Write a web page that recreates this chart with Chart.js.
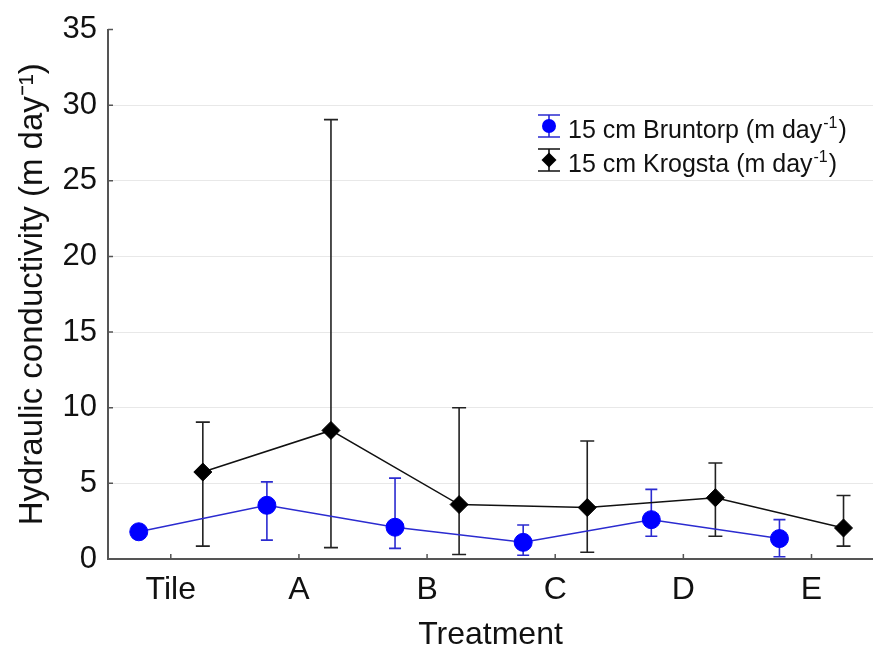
<!DOCTYPE html>
<html>
<head>
<meta charset="utf-8">
<script src="https://cdn.jsdelivr.net/npm/chart.js@4.4.0/dist/chart.umd.min.js"></script>
<style>
  html, body { margin: 0; padding: 0; background: #fff; }
  #wrap { width: 873px; height: 649px; }
</style>
</head>
<body>
<div id="wrap"><canvas id="chart"></canvas></div>
<script>
// categories on the x axis
const categories = ['Tile', 'A', 'B', 'C', 'D', 'E'];

// 15 cm Bruntorp (m day-1): mean, lower and upper whisker
const bruntorpMean = [1.8, 3.55, 2.1, 1.1, 2.6, 1.35];
const bruntorpLow  = [1.8, 1.25, 0.7, 0.25, 1.5, 0.15];
const bruntorpHigh = [1.8, 5.1, 5.35, 2.25, 4.6, 2.6];

// 15 cm Krogsta (m day-1)
const krogstaMean = [5.75, 8.5, 3.6, 3.4, 4.05, 2.05];
const krogstaLow  = [0.85, 0.75, 0.3, 0.45, 1.5, 0.85];
const krogstaHigh = [9.05, 29.05, 10.0, 7.8, 6.35, 4.2];

const yMin = 0, yMax = 35, yStep = 5;

const FONT = '"Liberation Sans", Arial, sans-serif';
const TXT = '#111';
const AXIS = '#555';

// series sit a quarter category left / right of the tick
const shift = 0.25;

// error bars, drawn under the markers
const errorBars = {
  id: 'errorBars',
  beforeDatasetsDraw(chart) {
    const ctx = chart.ctx;
    const xs = chart.scales.x, ys = chart.scales.y;
    chart.data.datasets.forEach(ds => {
      ctx.save();
      ctx.strokeStyle = ds.errColor;
      ctx.lineWidth = 1.6;
      ds.data.forEach((p, i) => {
        const x = xs.getPixelForValue(p.x);
        const y1 = ys.getPixelForValue(ds.errLow[i]);
        const y2 = ys.getPixelForValue(ds.errHigh[i]);
        if (Math.abs(y1 - y2) < 1) return;
        ctx.beginPath();
        ctx.moveTo(x, y1); ctx.lineTo(x, y2);
        ctx.moveTo(x - ds.capHalf, y1); ctx.lineTo(x + ds.capHalf, y1);
        ctx.moveTo(x - ds.capHalf, y2); ctx.lineTo(x + ds.capHalf, y2);
        ctx.stroke();
      });
      ctx.restore();
    });
  }
};

// inward tick marks on both axes
const innerTicks = {
  id: 'innerTicks',
  afterDraw(chart) {
    const ctx = chart.ctx;
    const xs = chart.scales.x, ys = chart.scales.y;
    const a = chart.chartArea;
    ctx.save();
    ctx.strokeStyle = AXIS;
    ctx.lineWidth = 1.5;
    ctx.beginPath();
    ys.ticks.forEach(t => {
      const y = ys.getPixelForValue(t.value);
      ctx.moveTo(a.left, y); ctx.lineTo(a.left + 5, y);
    });
    xs.ticks.forEach(t => {
      const x = xs.getPixelForValue(t.value);
      ctx.moveTo(x, a.bottom); ctx.lineTo(x, a.bottom - 5);
    });
    ctx.stroke();
    ctx.restore();
  }
};

// legend box in the upper right, with superscript units
const legendBox = {
  id: 'legendBox',
  afterDraw(chart) {
    const ctx = chart.ctx;
    const rows = [
      { name: '15 cm Bruntorp', y: 126, color: '#0000ff', bar: '#2b2bd0', style: 'circle' },
      { name: '15 cm Krogsta', y: 160, color: '#000', bar: '#111', style: 'diamond' }
    ];
    const mx = 549;
    rows.forEach(r => {
      ctx.save();
      ctx.strokeStyle = r.bar;
      ctx.lineWidth = 1.6;
      ctx.beginPath();
      ctx.moveTo(mx, r.y - 11); ctx.lineTo(mx, r.y + 11);
      ctx.moveTo(mx - 11, r.y - 11); ctx.lineTo(mx + 11, r.y - 11);
      ctx.moveTo(mx - 11, r.y + 11); ctx.lineTo(mx + 11, r.y + 11);
      ctx.stroke();
      ctx.fillStyle = r.color;
      ctx.beginPath();
      if (r.style === 'circle') {
        ctx.arc(mx, r.y, 7, 0, Math.PI * 2);
      } else {
        ctx.moveTo(mx, r.y - 7.5); ctx.lineTo(mx + 7.5, r.y);
        ctx.lineTo(mx, r.y + 7.5); ctx.lineTo(mx - 7.5, r.y);
        ctx.closePath();
      }
      ctx.fill();

      let x = 568;
      const base = r.y + 12;
      ctx.fillStyle = TXT;
      ctx.textBaseline = 'alphabetic';
      ctx.textAlign = 'left';
      ctx.font = '25px ' + FONT;
      const main = r.name + ' (m day';
      ctx.fillText(main, x, base);
      x += ctx.measureText(main).width + 1;
      ctx.font = '16px ' + FONT;
      ctx.fillText('-1', x, base - 10);
      x += ctx.measureText('-1').width + 1;
      ctx.font = '25px ' + FONT;
      ctx.fillText(')', x, base);
      ctx.restore();
    });
  }
};

function series(mean, low, high, opts) {
  return Object.assign({
    data: mean.map((v, i) => ({ x: i + opts.dx, y: v })),
    errLow: low,
    errHigh: high,
    showLine: true,
    borderWidth: 1.5,
    pointBorderWidth: 1
  }, opts);
}

new Chart(document.getElementById('chart'), {
  type: 'scatter',
  data: {
    datasets: [
      series(bruntorpMean, bruntorpLow, bruntorpHigh, {
        label: '15 cm Bruntorp (m day-1)', dx: -shift,
        borderColor: '#2b2bd0', pointBackgroundColor: '#0000ff', pointBorderColor: '#0000ff',
        pointStyle: 'circle', pointRadius: 9, errColor: '#2b2bd0', capHalf: 6
      }),
      series(krogstaMean, krogstaLow, krogstaHigh, {
        label: '15 cm Krogsta (m day-1)', dx: shift,
        borderColor: '#111', pointBackgroundColor: '#000', pointBorderColor: '#000',
        pointStyle: 'rectRot', pointRadius: 9, errColor: '#222', capHalf: 7
      })
    ]
  },
  options: {
    responsive: true,
    maintainAspectRatio: false,
    animation: false,
    layout: { autoPadding: false, padding: { top: 27, right: 0, left: 0, bottom: 0 } },
    plugins: {
      legend: { display: false },
      tooltip: { enabled: false }
    },
    scales: {
      x: {
        type: 'linear',
        min: -0.49,
        max: 5.48,
        afterBuildTicks: s => { s.ticks = categories.map((c, i) => ({ value: i })); },
        afterFit: s => { s.height = 90; },
        ticks: {
          callback: v => categories[v] !== undefined ? categories[v] : '',
          font: { family: FONT, size: 32 },
          color: TXT,
          padding: 12,
          maxRotation: 0,
          autoSkip: false
        },
        grid: { display: false, drawTicks: false },
        border: { display: true, color: AXIS, width: 2 },
        title: {
          display: true, text: 'Treatment', color: TXT,
          font: { family: FONT, size: 32 }, padding: { top: 0, bottom: -5 }
        }
      },
      y: {
        min: yMin,
        max: yMax,
        afterFit: s => { s.width = 108; },
        ticks: {
          stepSize: yStep,
          font: { family: FONT, size: 31 },
          color: TXT,
          padding: 11
        },
        grid: {
          drawTicks: false,
          lineWidth: 1,
          color: c => (c.tick && (c.tick.value === yMin || c.tick.value === yMax)) ? 'rgba(0,0,0,0)' : '#e8e8e8'
        },
        border: { display: true, color: AXIS, width: 2 },
        title: {
          display: true, text: 'Hydraulic conductivity (m day\u207B\u00B9)', color: TXT,
          font: { family: FONT, size: 33 }, padding: { top: 13, bottom: 0 }
        }
      }
    }
  },
  plugins: [errorBars, innerTicks, legendBox]
});
</script>
</body>
</html>
